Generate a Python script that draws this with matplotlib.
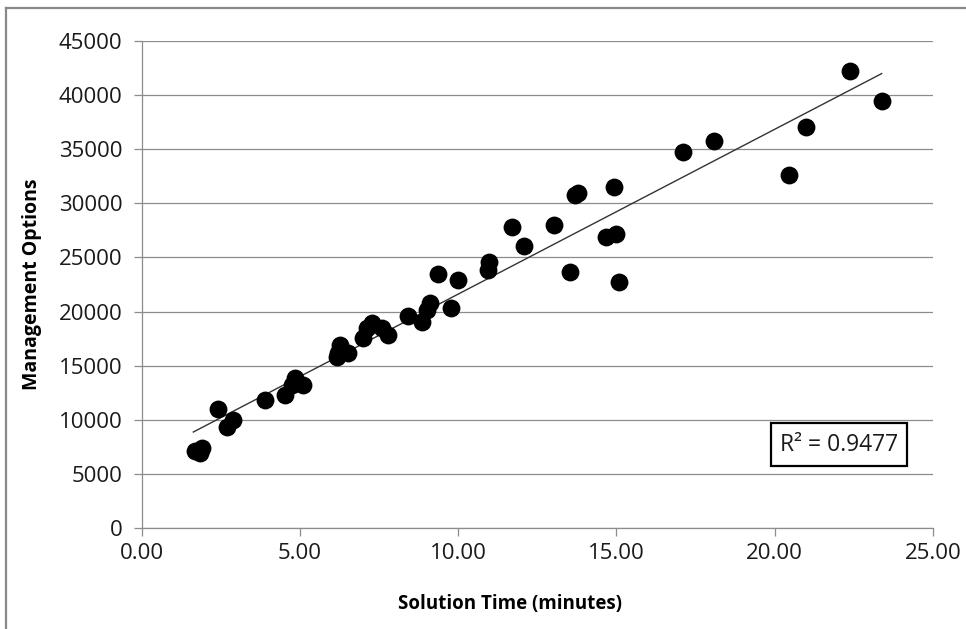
import numpy as np
import matplotlib
matplotlib.use("Agg")
import matplotlib.pyplot as plt
from matplotlib.lines import Line2D

plt.rcParams['font.family'] = ['Open Sans', 'DejaVu Sans']

# solution time (minutes) vs. number of management options
solution_time = [1.68, 1.84, 1.90, 2.42, 2.69, 2.90, 3.90, 4.53, 4.74, 4.84,
                 5.10, 6.18, 6.21, 6.27, 6.53, 7.00, 7.11, 7.27, 7.58, 7.79,
                 8.42, 8.85, 9.00, 9.11, 9.37, 9.76, 9.98, 10.94, 10.97, 11.71,
                 12.09, 13.03, 13.53, 13.69, 13.78, 14.67, 14.92, 14.99, 15.08,
                 17.10, 18.08, 20.46, 20.99, 22.38, 23.38]
management_options = [7100, 6900, 7400, 11000, 9360, 9980, 11830, 12290, 13220, 13830,
                      13220, 15830, 16150, 16910, 16150, 17530, 18460, 18920, 18460, 17840,
                      19590, 19070, 20150, 20770, 23470, 20300, 22920, 23840, 24610, 27850,
                      26060, 28000, 23690, 30780, 30930, 26870, 31550, 27140, 22760,
                      34740, 35800, 32600, 37060, 42240, 39460]
r_squared_text = "R² = 0.9477"

x = np.array(solution_time)
y = np.array(management_options)
slope, intercept = np.polyfit(x, y, 1)
x_fit = np.array([x.min() - 0.05, x.max()])

fig = plt.figure(figsize=(9.66, 6.29), dpi=100)
ax = fig.add_axes([0.1467, 0.1606, 0.8191, 0.7742])

grey = '#8c8c8c'
ax.set_axisbelow(True)
ax.yaxis.grid(True, color=grey, linewidth=0.9)
ax.scatter(x, y, s=165, color='black', zorder=3, linewidths=0)
ax.plot(x_fit, slope * x_fit + intercept, color='#333333', linewidth=1.0, zorder=2)

ax.set_xlim(0, 25)
ax.set_ylim(0, 45000)
ax.set_xticks(np.arange(0, 26, 5))
ax.set_xticklabels([f"{v:.2f}" for v in np.arange(0, 26, 5)])
ax.set_yticks(np.arange(0, 45001, 5000))
ax.set_yticklabels([str(v) for v in range(0, 45001, 5000)])

for side in ['top', 'right']:
    ax.spines[side].set_visible(False)
for side in ['left', 'bottom']:
    ax.spines[side].set_color(grey)
    ax.spines[side].set_linewidth(0.9)
ax.tick_params(axis='both', colors=grey, labelcolor='#1a1a1a', labelsize=16,
               width=0.9, length=6)
ax.tick_params(axis='y', pad=8)
ax.tick_params(axis='x', pad=5)

ax.set_xlabel("Solution Time (minutes)", fontsize=13.5, fontweight='bold')
ax.xaxis.set_label_coords(0.465, -0.135)
ax.set_ylabel("Management Options", fontsize=14, fontweight='bold', labelpad=12)

ax.text(23.9, 7700, r_squared_text, fontsize=16.5, ha='right', va='center',
        color='#1a1a1a',
        bbox=dict(boxstyle='square,pad=0.4', facecolor='white',
                  edgecolor='black', linewidth=1.6))

# outer chart frame (top and left edges visible)
fig.add_artist(Line2D([0.0067, 0.0067], [0.0, 0.9873], color='#888888',
                      linewidth=1.6, transform=fig.transFigure))
fig.add_artist(Line2D([0.0067, 1.0], [0.9873, 0.9873], color='#888888',
                      linewidth=1.6, transform=fig.transFigure))

fig.savefig("out.png", dpi=100)
